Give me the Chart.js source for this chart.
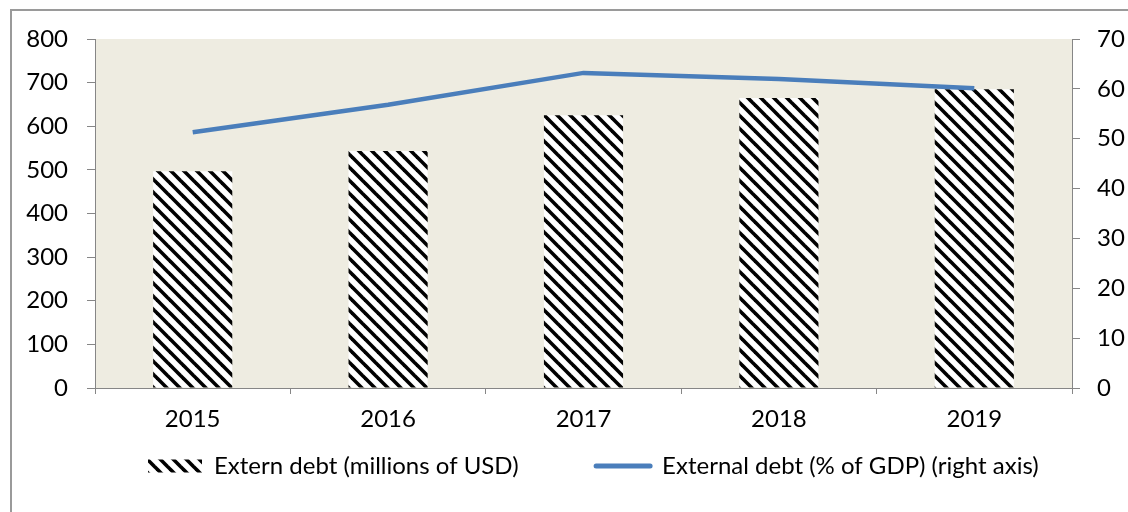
<!DOCTYPE html>
<html><head><meta charset="utf-8">
<script src="https://cdn.jsdelivr.net/npm/chart.js@4/dist/chart.umd.min.js"></script>
<style>html,body{margin:0;padding:0;background:#fff;}#wrap{width:1128px;height:512px;}</style>
</head><body><div id="wrap"><canvas id="c" width="1128" height="512"></canvas></div>
<script>
const years = ['2015', '2016', '2017', '2018', '2019'];
const debtUSD = [497, 543, 625, 665, 685];
const debtGDP = [51.3, 56.8, 63.2, 62.0, 60.1];
const leftAxis = { min: 0, max: 800, step: 100 };
const rightAxis = { min: 0, max: 70, step: 10 };
const barLabel = 'Extern debt (millions of USD)';
const lineLabel = 'External debt (% of GDP) (right axis)';

const FONT = 'Lato';
const FS = 24;
const canvas = document.getElementById('c');
const ctx = canvas.getContext('2d');

function makeHatch() {
  const s = 13;
  const c = document.createElement('canvas');
  c.width = s; c.height = s;
  const g = c.getContext('2d');
  g.fillStyle = '#fff'; g.fillRect(0, 0, s, s);
  g.strokeStyle = '#000'; g.lineWidth = 3.6;
  for (const k of [-s, 0, s]) {
    g.beginPath(); g.moveTo(-3, k - 3); g.lineTo(s + 3, s + k + 3); g.stroke();
  }
  return ctx.createPattern(c, 'repeat');
}
const hatch = makeHatch();
const blue = '#4A7EBB';
const axisGray = '#868686';

// spacing between the two legend entries (reference: 2nd marker starts ~451px after the 1st)
ctx.font = FS + 'px ' + FONT;
const w1 = ctx.measureText(barLabel).width;
const spW = ctx.measureText(' ').width || 6;
const nSp = Math.max(0, Math.round((451 - 54 - FS / 2 - 10 - w1) / spW));

const bgPlugin = {
  id: 'bg',
  beforeDraw(chart) {
    const g = chart.ctx, a = chart.chartArea;
    g.save();
    g.fillStyle = '#fff'; g.fillRect(0, 0, chart.width, chart.height);
    g.strokeStyle = '#9a9a9a'; g.lineWidth = 2;
    g.strokeRect(11, 10, chart.width + 20, chart.height + 20);
    g.fillStyle = '#EEECE1';
    g.fillRect(a.left, a.top, a.right - a.left, a.bottom - a.top);
    g.restore();
  }
};
const legendShift = {
  id: 'legendShift',
  afterLayout(chart) {
    const l = chart.legend;
    const dx = 138 - l.left;
    l.left += dx; l.right += dx;
  }
};

new Chart(canvas, {
  data: {
    labels: years,
    datasets: [
      { type: 'line', label: lineLabel, data: debtGDP, yAxisID: 'y2', borderColor: blue,
        borderWidth: 4.5, pointRadius: 0, tension: 0, order: 0, fill: false },
      { type: 'bar', label: barLabel, data: debtUSD, yAxisID: 'y', backgroundColor: hatch,
        borderWidth: 0, barPercentage: 0.405, categoryPercentage: 1, order: 1 }
    ]
  },
  options: {
    responsive: false, animation: false, devicePixelRatio: 1,
    layout: { padding: { left: 11, top: 39, right: 0, bottom: 24 } },
    plugins: {
      tooltip: { enabled: false },
      legend: {
        position: 'bottom', align: 'start',
        labels: {
          usePointStyle: true, pointStyleWidth: 54, boxHeight: 13, padding: 10,
          font: { family: FONT, size: FS }, color: '#000',
          generateLabels() {
            return [
              { text: barLabel + ' '.repeat(nSp), fillStyle: hatch, strokeStyle: 'rgba(0,0,0,0)', lineWidth: 0,
                pointStyle: 'rect', datasetIndex: 1, hidden: false, fontColor: '#000' },
              { text: lineLabel, fillStyle: 'rgba(0,0,0,0)', strokeStyle: blue, lineWidth: 5, lineCap: 'round',
                pointStyle: 'line', datasetIndex: 0, hidden: false, fontColor: '#000' }
            ];
          }
        }
      }
    },
    scales: {
      x: {
        offset: true,
        grid: { display: true, offset: true, drawOnChartArea: false, drawTicks: true, tickLength: 6, color: axisGray },
        border: { display: true, color: axisGray, width: 1 },
        ticks: { font: { family: FONT, size: FS }, color: '#000', padding: 11, maxRotation: 0 },
        afterFit(s) { s.height = 56; }
      },
      y: {
        position: 'left', min: leftAxis.min, max: leftAxis.max,
        grid: { display: true, drawOnChartArea: false, drawTicks: true, tickLength: 8, color: axisGray },
        border: { display: true, color: axisGray, width: 1 },
        ticks: { stepSize: leftAxis.step, font: { family: FONT, size: FS }, color: '#000', padding: 19 },
        afterFit(s) { s.width = 84; }
      },
      y2: {
        position: 'right', min: rightAxis.min, max: rightAxis.max,
        grid: { display: true, drawOnChartArea: false, drawTicks: true, tickLength: 8, color: axisGray },
        border: { display: true, color: axisGray, width: 1 },
        ticks: { stepSize: rightAxis.step, font: { family: FONT, size: FS }, color: '#000', padding: 17 },
        afterFit(s) { s.width = 56; }
      }
    }
  },
  plugins: [bgPlugin, legendShift]
});
</script>
</body></html>
